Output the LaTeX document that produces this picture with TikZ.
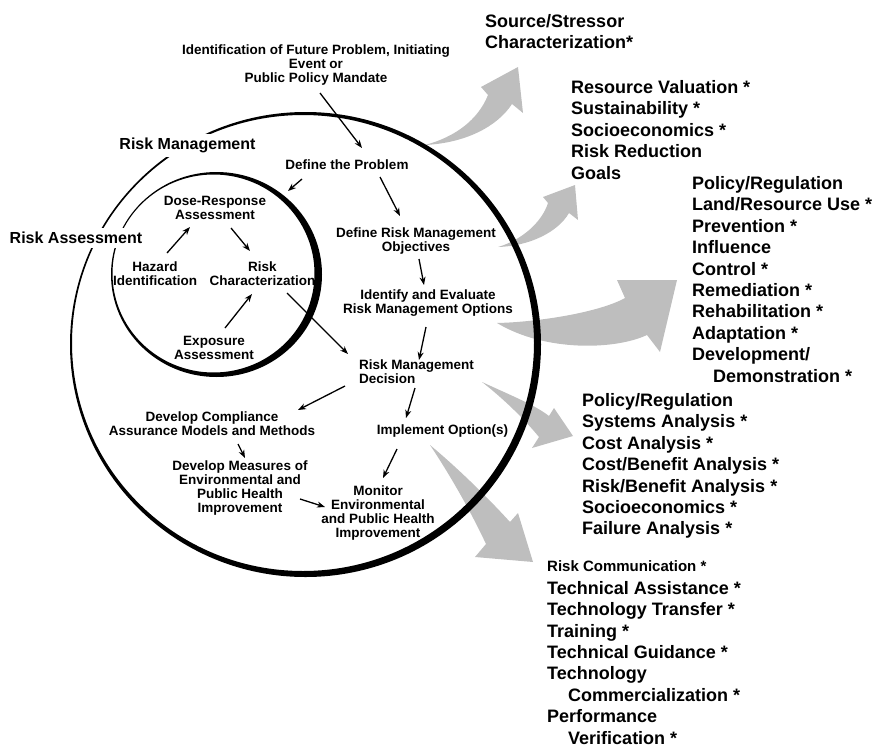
\documentclass[tikz,border=0pt]{standalone}
\usepackage{fontspec}
\setmainfont{Liberation Sans}
\usetikzlibrary{arrows.meta,calc}
\definecolor{arrgray}{RGB}{190,190,190}
\begin{document}
\begin{tikzpicture}[x=1pt,y=-1pt,
  inner/.style={font=\fontsize{13.5}{14}\selectfont\bfseries, align=center, inner sep=0pt},
  lst/.style={font=\fontsize{18}{21.4}\selectfont\bfseries, align=left, inner sep=0pt, anchor=north west},
  lbl/.style={font=\fontsize{16}{18}\selectfont\bfseries, fill=white, inner sep=4pt},
  arr/.style={line width=1.3pt, -{Stealth[length=8pt,width=6pt,inset=2.5pt]}},
  garr/.style={fill=arrgray}]
\useasboundingbox (0,0) rectangle (876,747);

% gray block arrows
\fill[garr] (425,145) .. controls (455,137) and (478,120) .. (488,95) -- (481,87) -- (518,67) -- (523,113) -- (512,104) .. controls (497,127) and (465,143) .. (425,145) -- cycle;
\fill[garr] (498,247) .. controls (522,240) and (542,222) .. (548,203) -- (543,197) -- (575,185) -- (578,220) -- (569,213) .. controls (558,232) and (530,246) .. (498,247) -- cycle;
\fill[garr] (497,323) .. controls (540,322) and (600,312) .. (625,298) -- (617,280) -- (677,280) -- (660,352) -- (647,335) .. controls (615,350) and (545,352) .. (497,323) -- cycle;
\fill[garr] (482,382) .. controls (510,395) and (535,405) .. (549,416) -- (554,408) -- (573,436) -- (532,448) -- (539,437) .. controls (525,420) and (505,400) .. (482,382) -- cycle;
\fill[garr] (430,445) .. controls (460,470) and (490,500) .. (510,522) -- (518,513) -- (533,562) -- (475,557) -- (486,544) .. controls (470,510) and (450,475) .. (430,445) -- cycle;

% circles (shadowed rings)
\fill[black, even odd rule] (305.5,344.5) ellipse [x radius=235.5, y radius=232.5]
                           (303,343) ellipse [x radius=231, y radius=228];
\fill[black, even odd rule] (216.5,274.5) ellipse [x radius=105.5, y radius=102.5]
                           (213.5,273.5) ellipse [x radius=101, y radius=99];
\coordinate (rac) at (216.5,274.5);

% labels breaking the circles
\node[lbl] (lrm) at (187.5,145.6) {Risk Management};
\node[lbl] (lra) at (76,237.7) {Risk Assessment};

% process texts
\node[inner] (top) at (316,65.4) {Identification of Future Problem, Initiating\\Event or\\Public Policy Mandate};
\node[inner] (dp) at (347,165) {Define the Problem};
\node[inner] (dro) at (416,241.4) {Define Risk Management\\Objectives};
\node[inner] (ieo) at (428,303.4) {Identify and Evaluate\\Risk Management Options};
\node[inner, align=left, anchor=west] (rmd) at (359,372) {Risk Management\\Decision};
\node[inner] (impl) at (442.5,431.5) {Implement Option(s)};
\node[inner] (mon) at (378,513.4) {Monitor\\Environmental\\and Public Health\\Improvement};
\node[inner] (dcomp) at (212,424) {Develop Compliance\\Assurance Models and Methods};
\node[inner] (dmeas) at (240,488.4) {Develop Measures of\\Environmental and\\Public Health\\Improvement};
\node[inner] (dose) at (215,208.3) {Dose-Response\\Assessment};
\node[inner] (haz) at (155,273.3) {Hazard\\Identification};
\node[inner] (rc) at (262.5,273.3) {Risk\\Characterization};
\node[inner] (exp) at (214,347.8) {Exposure\\Assessment};

% right-hand lists
\node[lst] (src) at (485,14.3) {Source/Stressor\\Characterization*};
\node[lst] (resv) at (571,80.3) {Resource Valuation *\\Sustainability *\\Socioeconomics *\\Risk Reduction\\Goals};
\node[lst] (pol1) at (692,176.3) {Policy/Regulation\\Land/Resource Use *\\Prevention *\\Influence\\Control *\\Remediation *\\Rehabilitation *\\Adaptation *\\Development/\\\hspace*{21pt}Demonstration *};
\node[lst] (pol2) at (582,393.3) {Policy/Regulation\\Systems Analysis *\\Cost Analysis *\\Cost/Benefit Analysis *\\Risk/Benefit Analysis *\\Socioeconomics *\\Failure Analysis *};
\node[font=\fontsize{15}{18}\selectfont\bfseries, inner sep=0pt, anchor=base west] (rcomm) at (547,571.4) {Risk Communication *};
\node[lst] (tech) at (547,581) {Technical Assistance *\\Technology Transfer *\\Training *\\Technical Guidance *\\Technology\\\hspace*{21pt}Commercialization *\\Performance\\\hspace*{21pt}Verification *};

% black arrows
\draw[arr] ($(top)+(4,27.6)$) -- ($(dp)+(15,-17)$);
\draw[arr] ($(dp)+(-45,14)$) -- ($(rac)+(71.5,-83.5)$);
\draw[arr] ($(dp)+(33,12)$) -- ($(dro)+(-16,-25.4)$);
\draw[arr] ($(dro)+(3,17.6)$) -- ($(ieo)+(-4,-18.4)$);
\draw[arr] ($(ieo)+(-2,23.6)$) -- ($(rmd.west)+(60,-12)$);
\draw[arr] ($(rc)+(24.5,19.7)$) -- ($(rmd.west)+(-11,-18)$);
\draw[arr] ($(rmd.west)+(-14,14)$) -- ($(dcomp)+(86,-14)$);
\draw[arr] ($(rmd.west)+(56,16)$) -- ($(impl)+(-36.5,-13.5)$);
\draw[arr] ($(impl)+(-45.5,17.5)$) -- ($(mon)+(5,-35.4)$);
\draw[arr] ($(dcomp)+(26,20)$) -- ($(dmeas)+(5,-30.4)$);
\draw[arr] ($(dmeas)+(60,10.6)$) -- ($(mon)+(-53,-6.4)$);
\draw[arr] ($(haz)+(12,-20.3)$) -- ($(dose)+(-25,18.7)$);
\draw[arr] ($(dose)+(16,19.7)$) -- ($(rc)+(-12.5,-22.3)$);
\draw[arr] ($(exp)+(11,-19.8)$) -- ($(rc)+(-10.5,20.7)$);
\end{tikzpicture}
\end{document}
